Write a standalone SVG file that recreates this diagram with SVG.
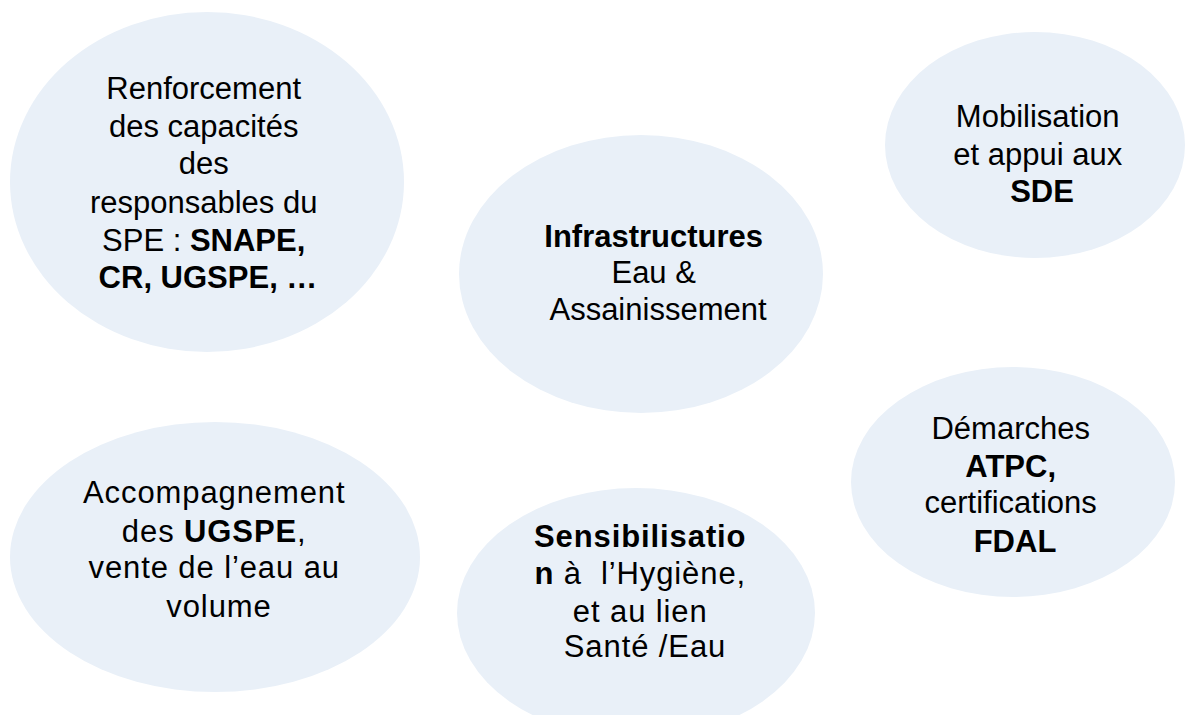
<svg xmlns="http://www.w3.org/2000/svg" width="1187" height="715" viewBox="0 0 1187 715">
  <style>
    .bubble { fill: #E9F0F8; stroke: none; }
    .lbl { font-family: "Liberation Sans", Arial, sans-serif; font-size: 31px; fill: #000; text-anchor: middle; }
    .wide { letter-spacing: 0.9px; }
    .b { font-weight: bold; }
  </style>
  <rect width="1187" height="715" fill="#ffffff"/>

  <g id="connectors"></g>

  <g id="node-renforcement">
    <ellipse class="bubble" cx="207" cy="182" rx="197" ry="170"/>
    <text class="lbl">
      <tspan x="208" y="99">Renforcement</tspan>
      <tspan x="208" y="137">des capacités</tspan>
      <tspan x="208" y="174">des</tspan>
      <tspan x="208" y="213">responsables du</tspan>
      <tspan x="208" y="251">SPE : <tspan class="b">SNAPE,</tspan></tspan>
      <tspan x="208" y="288" class="b">CR, UGSPE, …</tspan>
    </text>
  </g>

  <g id="node-infrastructures">
    <ellipse class="bubble" cx="641" cy="274" rx="182" ry="139"/>
    <text class="lbl">
      <tspan x="658" y="247" class="b">Infrastructures</tspan>
      <tspan x="658" y="283">Eau &amp;</tspan>
      <tspan x="658" y="320">Assainissement</tspan>
    </text>
  </g>

  <g id="node-mobilisation">
    <ellipse class="bubble" cx="1035" cy="145" rx="150" ry="113"/>
    <text class="lbl">
      <tspan x="1042" y="127">Mobilisation</tspan>
      <tspan x="1042" y="165">et appui aux</tspan>
      <tspan x="1042" y="202" class="b">SDE</tspan>
    </text>
  </g>

  <g id="node-accompagnement">
    <ellipse class="bubble" cx="215" cy="557" rx="205" ry="135"/>
    <text class="lbl wide">
      <tspan x="219" y="503">Accompagnement</tspan>
      <tspan x="219" y="542">des <tspan class="b">UGSPE</tspan>,</tspan>
      <tspan x="219" y="578">vente de l’eau au</tspan>
      <tspan x="219" y="617">volume</tspan>
    </text>
  </g>

  <g id="node-sensibilisation">
    <ellipse class="bubble" cx="636" cy="613" rx="179" ry="125"/>
    <text class="lbl wide">
      <tspan x="645" y="547" class="b">Sensibilisatio</tspan>
      <tspan x="645" y="584"><tspan class="b">n</tspan> à&#160; l’Hygiène,</tspan>
      <tspan x="645" y="622">et au lien</tspan>
      <tspan x="645" y="657">Santé /Eau</tspan>
    </text>
  </g>

  <g id="node-demarches">
    <ellipse class="bubble" cx="1013" cy="482" rx="162" ry="115"/>
    <text class="lbl">
      <tspan x="1015" y="439">Démarches</tspan>
      <tspan x="1015" y="477" class="b">ATPC,</tspan>
      <tspan x="1015" y="513">certifications</tspan>
      <tspan x="1015" y="552" class="b">FDAL</tspan>
    </text>
  </g>
</svg>
